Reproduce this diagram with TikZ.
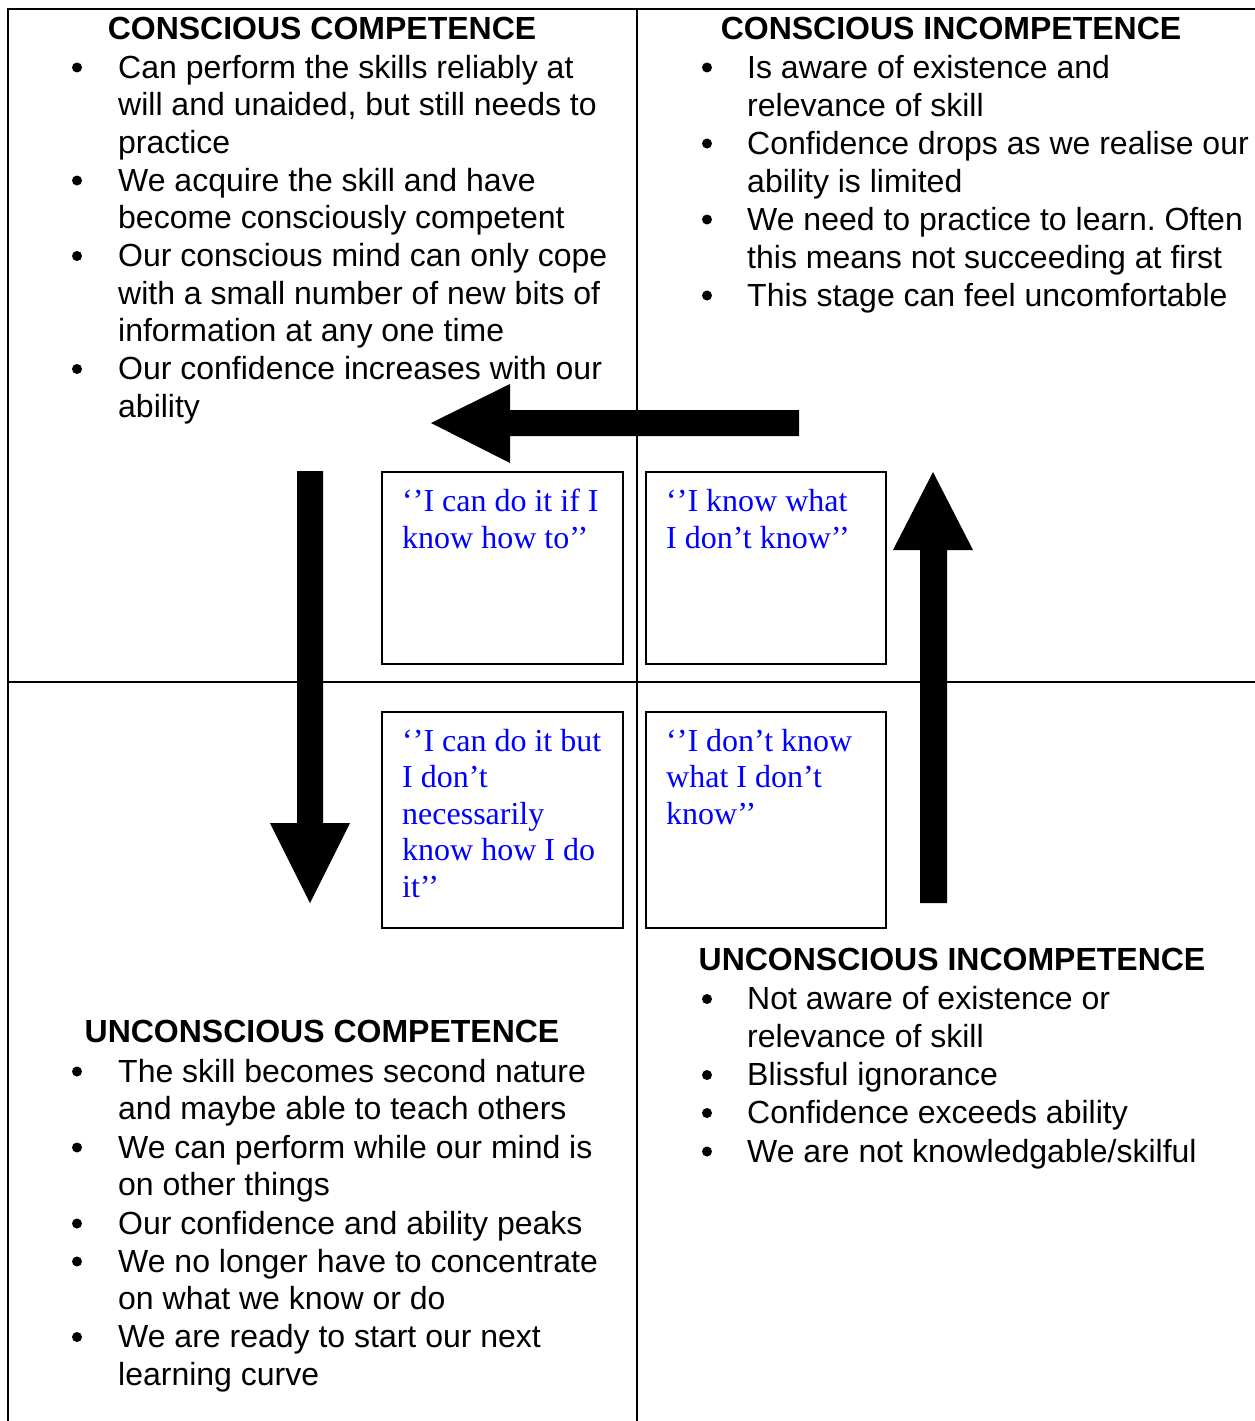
\documentclass[tikz,border=0pt]{standalone}
\usepackage{fontspec}
\setmainfont{Liberation Sans}
\newfontfamily\serifbox{Liberation Serif}
\definecolor{qblue}{RGB}{0,0,255}
\frenchspacing
\newcommand\mlines[2]{\vtop{\baselineskip=#1pt\lineskiplimit=-100pt\lineskip=0pt\halign{##\hfil\cr#2\crcr}}}
% \bitem{name}{bullet x}{text x}{first baseline}{spacing}{lines}
\newcommand\bitem[6]{%
  \node[bul] (#1b) at (#2,{#4-10.5}) {};
  \node[body] (#1) at (#3,#4) {\mlines{#5}{#6}};
}
\tikzset{
  gridline/.style={line width=2pt},
  qbox/.style={draw, line width=2pt, inner sep=0pt, anchor=north west},
  body/.style={anchor=base west, inner sep=0pt, font=\fontsize{32}{38}\selectfont},
  head/.style={anchor=base, inner sep=0pt, font=\bfseries\fontsize{32}{38}\selectfont},
  qtext/.style={anchor=base west, inner sep=0pt, text=qblue, font=\serifbox\fontsize{32}{37}\selectfont},
  bul/.style={circle, fill=black, draw=none, inner sep=0pt, minimum size=10pt},
  blockarrow/.style={fill=black}
}
\begin{document}
\begin{tikzpicture}[x=1pt,y=-1pt]
\useasboundingbox (0,0) rectangle (1255,1421);
\fill[white] (0,0) rectangle (1255,1421);

% grid
\draw[gridline] (8,1421) -- (8,9) -- (1255,9);
\draw[gridline] (637,9) -- (637,1421);
\draw[gridline] (8,682) -- (1255,682);

% top-left quadrant
\node[head] (hTL) at (322,39.5) {CONSCIOUS COMPETENCE};
\bitem{tl1}{77}{118}{78}{37.7}{Can perform the skills reliably at\cr will and unaided, but still needs to\cr practice}
\bitem{tl2}{77}{118}{191}{37.7}{We acquire the skill and have\cr become consciously competent}
\bitem{tl3}{77}{118}{266.5}{37.7}{Our conscious mind can only cope\cr with a small number of new bits of\cr information at any one time}
\bitem{tl4}{77}{118}{379.5}{37.7}{Our confidence increases with our\cr ability}

% top-right quadrant
\node[head] (hTR) at (951,39.5) {CONSCIOUS INCOMPETENCE};
\bitem{tr1}{707}{747}{78}{38}{Is aware of existence and\cr relevance of skill}
\bitem{tr2}{707}{747}{154}{38}{Confidence drops as we realise our\cr ability is limited}
\bitem{tr3}{707}{747}{230}{38}{We need to practice to learn. Often\cr this means not succeeding at first}
\bitem{tr4}{707}{747}{306}{38}{This stage can feel uncomfortable}

% bottom-right quadrant
\node[head] (hBR) at (952,970.5) {UNCONSCIOUS INCOMPETENCE};
\bitem{br1}{707}{747}{1009.5}{38.2}{Not aware of existence or\cr relevance of skill}
\bitem{br2}{707}{747}{1085.5}{38.2}{Blissful ignorance}
\bitem{br3}{707}{747}{1123.5}{38.2}{Confidence exceeds ability}
\bitem{br4}{707}{747}{1162}{38.2}{We are not knowledgable/skilful}

% bottom-left quadrant
\node[head] (hBL) at (322,1042) {UNCONSCIOUS COMPETENCE};
\bitem{bl1}{77}{118}{1082}{37.9}{The skill becomes second nature\cr and maybe able to teach others}
\bitem{bl2}{77}{118}{1158}{37.9}{We can perform while our mind is\cr on other things}
\bitem{bl3}{77}{118}{1234}{37.9}{Our confidence and ability peaks}
\bitem{bl4}{77}{118}{1272}{37.9}{We no longer have to concentrate\cr on what we know or do}
\bitem{bl5}{77}{118}{1347.5}{37.9}{We are ready to start our next\cr learning curve}

% quote boxes
\node[qbox, minimum width=241pt, minimum height=192pt] (boxA) at (381,471) {};
\node[qbox, minimum width=240pt, minimum height=192pt] (boxB) at (645,471) {};
\node[qbox, minimum width=241pt, minimum height=216pt] (boxC) at (381,711) {};
\node[qbox, minimum width=240pt, minimum height=216pt] (boxD) at (645,711) {};
\node[qtext] (tA) at ([xshift=21pt,yshift=-40pt]boxA.north west) {\mlines{37}{‘’I can do it if I\cr know how to’’}};
\node[qtext] (tB) at ([xshift=21pt,yshift=-40pt]boxB.north west) {\mlines{37}{‘’I know what\cr I don’t know’’}};
\node[qtext] (tC) at ([xshift=21pt,yshift=-40pt]boxC.north west) {\mlines{36.5}{‘’I can do it but\cr I don’t\cr necessarily\cr know how I do\cr it’’}};
\node[qtext] (tD) at ([xshift=21pt,yshift=-40pt]boxD.north west) {\mlines{36.5}{‘’I don’t know\cr what I don’t\cr know’’}};

% block arrows
\fill[blockarrow] (799,410) -- (510,410) -- (510,384) -- (431,423) -- (510,463) -- (510,436) -- (799,436) -- cycle;
\fill[blockarrow] (297,471) -- (323,471) -- (323,823) -- (350,823) -- (310,903) -- (270,823) -- (297,823) -- cycle;
\fill[blockarrow] (920,903) -- (947,903) -- (947,550) -- (973,550) -- (933,472) -- (893,550) -- (920,550) -- cycle;
\end{tikzpicture}
\end{document}
